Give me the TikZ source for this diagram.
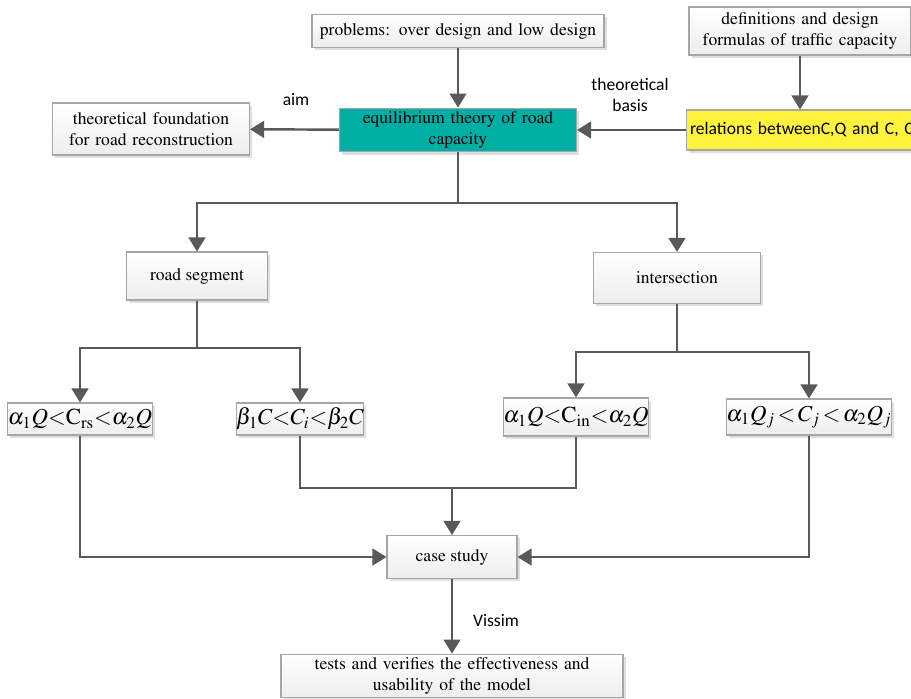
\documentclass[tikz,border=0pt]{standalone}
\usepackage{fontspec}
\newfontfamily\labelfont{Carlito}
\usepackage[T1]{fontenc}
\usepackage{mathptmx}
\usetikzlibrary{arrows.meta,positioning,shadows}

\definecolor{linegray}{HTML}{595959}
\definecolor{boxline}{HTML}{A6A6A6}
\definecolor{tealfill}{HTML}{00AFA4}
\definecolor{yellowfill}{HTML}{FFF23C}

\tikzset{
    box/.style={draw=boxline, top color=white, bottom color=gray!14, align=center,
        inner sep=2pt, line width=0.6pt,
        drop shadow={opacity=0.25, shadow xshift=1.5pt, shadow yshift=-1.5pt}},
    formula/.style={box, font=\fontsize{13}{15}\selectfont, inner sep=0pt},
    arr/.style={draw=linegray, line width=1.4pt, -{Triangle[length=8pt,width=9.5pt]}},
    line/.style={draw=linegray, line width=1.4pt},
    tag/.style={font=\labelfont, align=center}
}

\begin{document}
\begin{tikzpicture}[x=0.02cm, y=-0.02cm]
    \useasboundingbox (0,0) rectangle (911,698);

    % top row
    \node[box, text width=5.7cm, minimum height=0.66cm] (problems) at (458,31) {problems: over design and low design};
    \node[box, text width=4.3cm, minimum height=0.96cm] (defs) at (800,31) {definitions and design\\formulas of traffic capacity};
    \node[box, fill=tealfill, top color=tealfill, bottom color=tealfill, text width=4.6cm, minimum height=0.86cm] (eq) at (458,130) {equilibrium theory of road\\capacity};
    \node[box, text width=3.8cm, minimum height=1.04cm] (found) at (151,129) {theoretical foundation\\for road reconstruction};
    \node[box, top color=yellowfill, bottom color=yellowfill, anchor=west, minimum width=4.6cm, minimum height=0.8cm, align=left, text width=4.5cm, font=\labelfont] (rel) at (686,130) {relations betweenC,Q and C, C};

    \node[tag] (aim) at (296,100) {aim};
    \node[tag] (basis) at (630,95) {theoretical\\basis};

    % second level
    \node[box, minimum width=2.82cm, minimum height=0.96cm] (seg) at (197,276) {road segment};
    \node[box, minimum width=3.34cm, minimum height=1.02cm] (inter) at (677,278) {intersection};

    % conditions
    \node[formula, minimum width=2.86cm, minimum height=0.64cm] (f1) at (80,419) {$\alpha_1Q{<}\mathrm{C}_{\mathrm{rs}}{<}\alpha_2Q$};
    \node[formula, minimum width=2.54cm, minimum height=0.64cm] (f2) at (300,419) {$\beta_1C{<}C_i{<}\beta_2C$};
    \node[formula, minimum width=2.88cm, minimum height=0.76cm] (f3) at (576,417) {$\alpha_1Q{<}\mathrm{C}_{\mathrm{in}}{<}\alpha_2Q$};
    \node[formula, minimum width=3.16cm, minimum height=0.72cm] (f4) at (809,417) {$\alpha_1Q_j{\,<\,}C_j{\,<\,}\alpha_2Q_j$};

    % bottom
    \node[box, minimum width=2.6cm, minimum height=0.86cm] (case) at (452,557) {case study};
    \node[box, text width=6.7cm, minimum height=0.84cm] (tests) at (452,676) {tests and verifies the effectiveness and\\usability of the model};
    \node[tag] (vissim) at (496,620) {Vissim};

    \coordinate (split) at (458,203);
    \coordinate (segsplit) at (197,348);
    \coordinate (intsplit) at (677,352);
    \coordinate (join) at (452,488);

    \path
    (problems) edge[arr] (eq)
    (defs) edge[arr] (defs |- rel.north)
    (rel) edge[arr] (eq)
    (eq) edge[arr] (found)
    (case) edge[arr] (tests)
    (join) edge[arr] (case);

    \draw[line] (eq) -- (split);
    \draw[arr] (split) -| (seg);
    \draw[arr] (split) -| (inter);
    \draw[line] (seg) -- (segsplit);
    \draw[arr] (segsplit) -| (f1);
    \draw[arr] (segsplit) -| (f2);
    \draw[line] (inter) -- (intsplit);
    \draw[arr] (intsplit) -| (f3);
    \draw[arr] (intsplit) -| (f4);
    \draw[arr] (f1) |- (case);
    \draw[arr] (f4) |- (case);
    \draw[line] (f2) |- (join) -| (f3);
\end{tikzpicture}
\end{document}
